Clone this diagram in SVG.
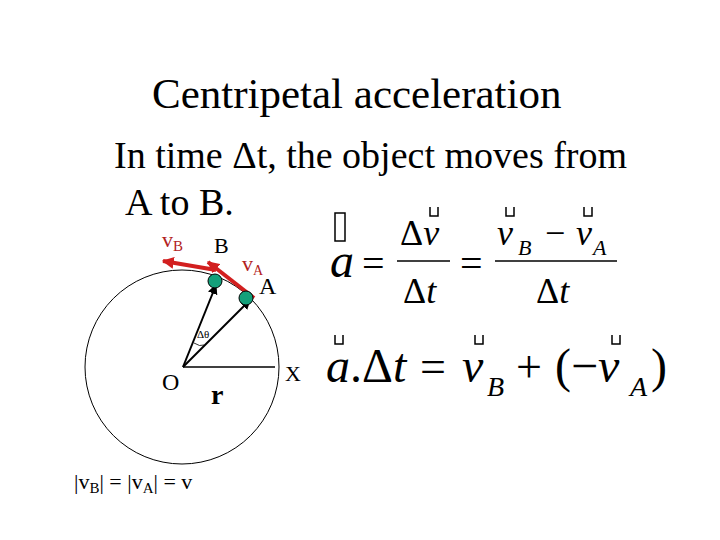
<svg xmlns="http://www.w3.org/2000/svg" width="720" height="540" viewBox="0 0 720 540">
<defs>
<marker id="ab" viewBox="0 0 10 10" refX="9" refY="5" markerWidth="5" markerHeight="5" orient="auto"><path d="M0,0 L10,5 L0,10 z" fill="#000"/></marker>
<marker id="ar" viewBox="0 0 10 10" refX="9" refY="5" markerWidth="3" markerHeight="3" orient="auto"><path d="M0,0 L10,5 L0,10 z" fill="#d21f1f"/></marker>
</defs>
<style>
text{font-family:"Liberation Serif","Times New Roman",serif;fill:#000}
.red{fill:#b22222}
.it{font-style:italic}
.box{fill:none;stroke:#000;stroke-width:1.5}
</style>
<rect width="720" height="540" fill="#fff"/>
<text x="152" y="108" font-size="43">Centripetal acceleration</text>
<text x="114" y="168" font-size="38">In time Δt, the object moves from</text>
<text x="125" y="215" font-size="38">A to B.</text>
<g id="circle"><circle cx="182" cy="367" r="97" fill="none" stroke="#000" stroke-width="1"/></g>
<g id="connectors">
<line x1="183" y1="367" x2="275" y2="367" stroke="#000" stroke-width="1.5"/>
<line x1="183" y1="367" x2="216" y2="285" stroke="#000" stroke-width="2" marker-end="url(#ab)"/>
<line x1="183" y1="367" x2="250" y2="300" stroke="#000" stroke-width="2" marker-end="url(#ab)"/>
<path d="M194,343 Q200,347 204,345" fill="none" stroke="#000" stroke-width="0.8"/>
<line x1="216" y1="270" x2="163" y2="261" stroke="#d21f1f" stroke-width="4" marker-end="url(#ar)"/>
<line x1="254" y1="298" x2="208" y2="262" stroke="#d21f1f" stroke-width="4" marker-end="url(#ar)"/>
</g>
<g id="ballB"><circle cx="215" cy="281" r="7" fill="#14a07a" stroke="#000" stroke-width="1"/></g>
<g id="ballA"><circle cx="246" cy="298" r="7" fill="#14a07a" stroke="#000" stroke-width="1"/></g>
<text x="162" y="247" font-size="22" class="red">v<tspan font-size="15" dy="4">B</tspan></text>
<text x="214" y="253" font-size="22">B</text>
<text x="242" y="271" font-size="22" class="red">v<tspan font-size="14" dy="4">A</tspan></text>
<text x="259" y="294" font-size="24">A</text>
<text x="197" y="338" font-size="11" font-family="Liberation Sans,sans-serif">Δθ</text>
<text x="162" y="390" font-size="24">O</text>
<text x="211" y="404" font-size="28" font-weight="bold">r</text>
<text x="285" y="381" font-size="22">X</text>
<text x="74" y="489" font-size="22">|v<tspan font-size="15" dy="4">B</tspan><tspan dy="-4">| = |v</tspan><tspan font-size="15" dy="4">A</tspan><tspan dy="-4">| = v</tspan></text>
<g id="eq1">
<rect class="box" x="335" y="213" width="10" height="28"/>
<text x="330" y="277" font-size="48" class="it">a</text>
<text x="362" y="277" font-size="40">=</text>
<text x="400" y="245" font-size="36">Δ<tspan class="it">v</tspan></text>
<path class="box" d="M430,207 v9 h8 v-9"/>
<line x1="397" y1="261" x2="450" y2="261" stroke="#000" stroke-width="1.5"/>
<text x="403" y="303" font-size="36">Δ<tspan class="it">t</tspan></text>
<text x="460" y="277" font-size="40">=</text>
<text x="497" y="245" font-size="36" class="it">v</text>
<text x="518" y="255" font-size="22" class="it">B</text>
<text x="545" y="245" font-size="36">−</text>
<text x="576" y="245" font-size="36" class="it">v</text>
<text x="593" y="255" font-size="22" class="it">A</text>
<path class="box" d="M506,207 v9 h8 v-9 M584,207 v9 h8 v-9"/>
<line x1="495" y1="261" x2="617" y2="261" stroke="#000" stroke-width="1.5"/>
<text x="536" y="303" font-size="36">Δ<tspan class="it">t</tspan></text>
</g>
<g id="eq2">
<path class="box" d="M335,335 v9 h8 v-9 M475,335 v9 h8 v-9 M612,335 v9 h8 v-9"/>
<text x="326" y="382" font-size="48" class="it">a</text>
<text x="350" y="382" font-size="48">.Δ<tspan class="it">t</tspan></text>
<text x="420" y="382" font-size="46">=</text>
<text x="462" y="382" font-size="48" class="it">v</text>
<text x="487" y="396" font-size="28" class="it">B</text>
<text x="516" y="382" font-size="46">+</text>
<text x="555" y="382" font-size="48">(−<tspan class="it">v</tspan></text>
<text x="630" y="396" font-size="28" class="it">A</text>
<text x="651" y="382" font-size="48">)</text>
</g>
</svg>
